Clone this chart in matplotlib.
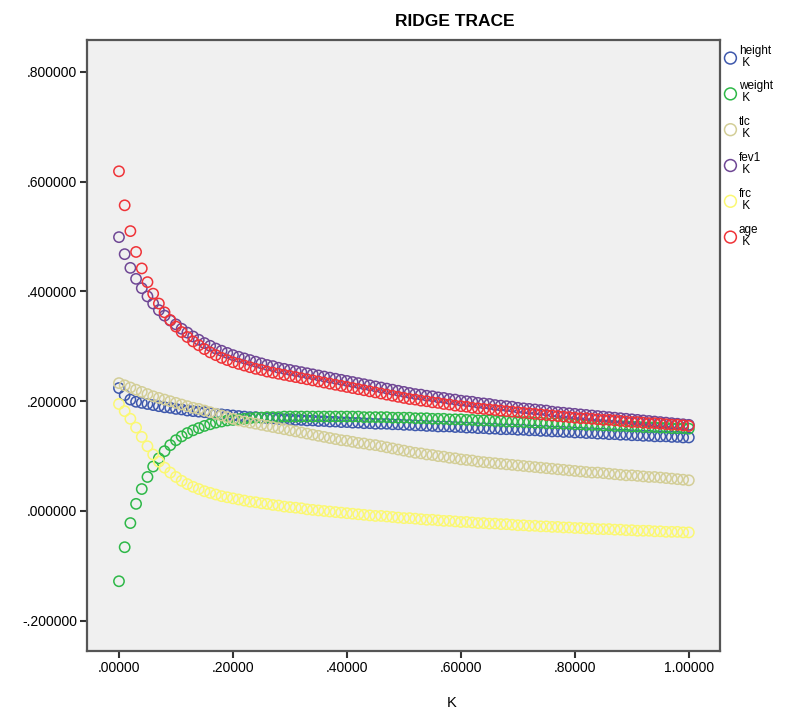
import numpy as np
import matplotlib
matplotlib.use('Agg')
from matplotlib import pyplot as plt

plt.rcParams['font.family'] = ['Liberation Sans', 'DejaVu Sans']

# ridge parameter K, 0 to 1 in steps of .01
k_values = np.round(np.arange(0, 101) * 0.01, 2)

height = [0.224, 0.211, 0.203, 0.199, 0.197, 0.195, 0.193, 0.191, 0.189, 0.188,
          0.186, 0.185, 0.183, 0.182, 0.181, 0.180, 0.178, 0.177, 0.176, 0.175,
          0.174, 0.173, 0.172, 0.171, 0.171, 0.170, 0.169, 0.169, 0.168, 0.167,
          0.167, 0.166, 0.166, 0.165, 0.165, 0.164, 0.164, 0.163, 0.163, 0.162,
          0.162, 0.161, 0.161, 0.160, 0.160, 0.159, 0.159, 0.159, 0.158, 0.158,
          0.157, 0.157, 0.156, 0.156, 0.155, 0.155, 0.154, 0.154, 0.154, 0.153,
          0.153, 0.152, 0.152, 0.151, 0.151, 0.150, 0.150, 0.149, 0.149, 0.149,
          0.148, 0.148, 0.147, 0.147, 0.146, 0.146, 0.145, 0.145, 0.144, 0.144,
          0.143, 0.143, 0.142, 0.142, 0.141, 0.141, 0.140, 0.140, 0.139, 0.139,
          0.138, 0.138, 0.137, 0.137, 0.136, 0.136, 0.136, 0.135, 0.135, 0.134,
          0.134]

weight = [-0.128, -0.066, -0.022, 0.013, 0.040, 0.062, 0.081, 0.096, 0.109, 0.120,
          0.129, 0.136, 0.142, 0.147, 0.151, 0.155, 0.158, 0.161, 0.163, 0.165,
          0.166, 0.167, 0.168, 0.169, 0.170, 0.170, 0.171, 0.171, 0.171, 0.172,
          0.172, 0.172, 0.172, 0.172, 0.172, 0.172, 0.172, 0.172, 0.172, 0.172,
          0.172, 0.172, 0.172, 0.171, 0.171, 0.171, 0.171, 0.171, 0.170, 0.170,
          0.170, 0.170, 0.169, 0.169, 0.169, 0.168, 0.168, 0.168, 0.167, 0.167,
          0.167, 0.166, 0.166, 0.165, 0.165, 0.165, 0.164, 0.164, 0.163, 0.163,
          0.163, 0.162, 0.162, 0.161, 0.161, 0.160, 0.160, 0.160, 0.159, 0.159,
          0.158, 0.158, 0.157, 0.157, 0.157, 0.156, 0.156, 0.155, 0.155, 0.155,
          0.154, 0.154, 0.153, 0.153, 0.153, 0.152, 0.152, 0.151, 0.151, 0.151,
          0.150]

tlc = [0.233, 0.229, 0.225, 0.221, 0.217, 0.213, 0.209, 0.206, 0.203, 0.200,
       0.197, 0.194, 0.191, 0.188, 0.186, 0.183, 0.180, 0.177, 0.174, 0.171,
       0.168, 0.165, 0.163, 0.161, 0.159, 0.157, 0.155, 0.153, 0.151, 0.149,
       0.147, 0.145, 0.143, 0.141, 0.139, 0.137, 0.135, 0.133, 0.131, 0.129,
       0.128, 0.126, 0.124, 0.123, 0.121, 0.120, 0.118, 0.116, 0.114, 0.112,
       0.110, 0.108, 0.106, 0.105, 0.103, 0.102, 0.100, 0.099, 0.097, 0.096,
       0.094, 0.093, 0.092, 0.090, 0.089, 0.088, 0.087, 0.086, 0.085, 0.084,
       0.083, 0.082, 0.081, 0.080, 0.079, 0.078, 0.077, 0.076, 0.075, 0.074,
       0.073, 0.072, 0.071, 0.070, 0.070, 0.069, 0.068, 0.067, 0.066, 0.065,
       0.065, 0.064, 0.063, 0.062, 0.062, 0.061, 0.060, 0.059, 0.058, 0.057,
       0.056]

fev1 = [0.499, 0.468, 0.443, 0.423, 0.406, 0.391, 0.378, 0.366, 0.356, 0.347,
        0.340, 0.332, 0.325, 0.318, 0.312, 0.306, 0.301, 0.296, 0.292, 0.288,
        0.284, 0.281, 0.278, 0.275, 0.272, 0.269, 0.266, 0.264, 0.261, 0.259,
        0.257, 0.255, 0.253, 0.251, 0.249, 0.247, 0.245, 0.243, 0.241, 0.239,
        0.237, 0.235, 0.233, 0.231, 0.229, 0.227, 0.225, 0.223, 0.221, 0.219,
        0.217, 0.215, 0.213, 0.212, 0.210, 0.209, 0.207, 0.206, 0.204, 0.203,
        0.201, 0.200, 0.199, 0.197, 0.196, 0.195, 0.193, 0.192, 0.191, 0.190,
        0.188, 0.187, 0.186, 0.185, 0.184, 0.183, 0.181, 0.180, 0.179, 0.178,
        0.177, 0.176, 0.175, 0.174, 0.173, 0.172, 0.171, 0.170, 0.169, 0.168,
        0.167, 0.166, 0.165, 0.164, 0.163, 0.162, 0.161, 0.160, 0.159, 0.158,
        0.157]

frc = [0.195, 0.182, 0.168, 0.152, 0.135, 0.118, 0.103, 0.090, 0.079, 0.070,
       0.062, 0.055, 0.049, 0.044, 0.040, 0.036, 0.033, 0.030, 0.027, 0.025,
       0.023, 0.021, 0.019, 0.017, 0.016, 0.014, 0.013, 0.011, 0.010, 0.008,
       0.007, 0.006, 0.005, 0.003, 0.002, 0.001, 0.000, -0.001, -0.002, -0.003,
       -0.004, -0.005, -0.006, -0.007, -0.008, -0.009, -0.009, -0.010, -0.011, -0.012,
       -0.013, -0.013, -0.014, -0.015, -0.016, -0.016, -0.017, -0.018, -0.018, -0.019,
       -0.020, -0.020, -0.021, -0.022, -0.022, -0.023, -0.023, -0.024, -0.024, -0.025,
       -0.026, -0.026, -0.027, -0.027, -0.028, -0.028, -0.029, -0.029, -0.030, -0.030,
       -0.031, -0.031, -0.032, -0.032, -0.033, -0.033, -0.033, -0.034, -0.034, -0.035,
       -0.035, -0.036, -0.036, -0.036, -0.037, -0.037, -0.038, -0.038, -0.038, -0.039,
       -0.039]

age = [0.619, 0.557, 0.510, 0.472, 0.442, 0.417, 0.396, 0.378, 0.362, 0.348,
       0.336, 0.326, 0.317, 0.309, 0.302, 0.295, 0.289, 0.284, 0.279, 0.275,
       0.271, 0.268, 0.265, 0.262, 0.259, 0.257, 0.254, 0.252, 0.250, 0.248,
       0.246, 0.244, 0.242, 0.240, 0.238, 0.236, 0.234, 0.232, 0.230, 0.228,
       0.226, 0.224, 0.222, 0.220, 0.218, 0.216, 0.214, 0.212, 0.210, 0.208,
       0.206, 0.204, 0.203, 0.201, 0.200, 0.198, 0.197, 0.195, 0.194, 0.192,
       0.191, 0.190, 0.188, 0.187, 0.186, 0.185, 0.184, 0.183, 0.182, 0.181,
       0.180, 0.179, 0.178, 0.177, 0.176, 0.175, 0.174, 0.173, 0.172, 0.171,
       0.170, 0.169, 0.169, 0.168, 0.167, 0.166, 0.166, 0.165, 0.164, 0.163,
       0.162, 0.162, 0.161, 0.160, 0.160, 0.159, 0.158, 0.157, 0.157, 0.156,
       0.155]

series_names = ['height', 'weight', 'tlc', 'fev1', 'frc', 'age']
series_values = [height, weight, tlc, fev1, frc, age]
colors = ['#3E58AC', '#2EB848', '#D3CE97', '#6F4795', '#FBF873', '#EF3338']

xticks = [0.0, 0.2, 0.4, 0.6, 0.8, 1.0]
xtick_labels = ['.00000', '.20000', '.40000', '.60000', '.80000', '1.00000']
yticks = [-0.2, 0.0, 0.2, 0.4, 0.6, 0.8]
ytick_labels = ['-.200000', '.000000', '.200000', '.400000', '.600000', '.800000']

fig = plt.figure(figsize=(7.91, 7.11), dpi=100)
ax = fig.add_axes([0.110, 0.0844, 0.800, 0.8594])
ax.set_facecolor('#F0F0F0')

for name, vals, col in zip(series_names, series_values, colors):
    ax.scatter(k_values, vals, s=55, facecolors='none', edgecolors=col,
               linewidths=1.1, label=name + '\n K')

ax.set_xlim(-0.0561, 1.0544)
ax.set_ylim(-0.2551, 0.8583)
ax.set_xticks(xticks)
ax.set_xticklabels(xtick_labels, fontsize=10)
ax.set_yticks(yticks)
ax.set_yticklabels(ytick_labels, fontsize=10)
ax.tick_params(direction='out', length=5, width=1.5, color='#333333', pad=2)

for side in ['left', 'bottom', 'top', 'right']:
    ax.spines[side].set_color('#555555')
    ax.spines[side].set_linewidth(1.6)

fig.text(455 / 791, 1 - 21 / 711, 'RIDGE TRACE', ha='center', va='center',
         fontsize=12.5, fontweight='bold')
fig.text(452 / 791, 1 - 703 / 711, 'K', ha='center', va='center', fontsize=10.5)

leg = ax.legend(loc='upper left', bbox_to_anchor=(1.0, 1.0), frameon=False,
                fontsize=8.5, handletextpad=0.2, handlelength=1.0,
                labelspacing=1.0, borderaxespad=0.1, borderpad=0.3,
                markerscale=1.15)
for t in leg.get_texts():
    t.set_linespacing(1.0)

fig.savefig('out.png', dpi=100)
